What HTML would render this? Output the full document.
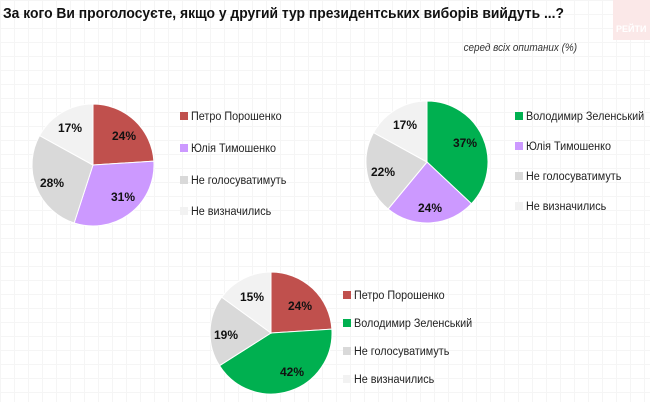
<!DOCTYPE html>
<html><head><meta charset="utf-8"><style>
body{margin:0;width:650px;height:402px;overflow:hidden;background:#fff;font-family:"Liberation Sans",sans-serif;
background-image:linear-gradient(#f5f5f5 1px,transparent 1px),linear-gradient(90deg,#f5f5f5 1px,transparent 1px);background-size:14px 14px;}
</style></head><body>
<svg id="s" width="650" height="402" style="position:absolute;left:0;top:0" font-family="Liberation Sans, sans-serif">
<rect x="613" y="0" width="37" height="40" fill="#fbe8e8"/>
<text x="616" y="32" font-size="9" font-weight="bold" fill="#fff">РЕЙТИ</text>
<text transform="translate(3,18) scale(0.925,1)" font-size="15" font-weight="bold" fill="#111">За кого Ви проголосуєте, якщо у другий тур президентських виборів вийдуть ...?</text>
<text transform="translate(577,51) scale(0.9,1)" font-size="11" font-style="italic" fill="#333" text-anchor="end">серед всіх опитаних (%)</text>
</svg>
<script>
var s=document.getElementById('s'),NS='http://www.w3.org/2000/svg';
function el(t,a,txt){var e=document.createElementNS(NS,t);for(var k in a)e.setAttribute(k,a[k]);if(txt)e.textContent=txt;s.appendChild(e);}
var C={r:'#c0504d',p:'#cc99ff',g:'#d9d9d9',l:'#f2f2f2',z:'#00b050'};
function pie(cx,cy,R,sl,labels){var a=0;sl.forEach(function(x,i){var v=x[0]/100,a2=a+v*2*Math.PI;
var x1=cx+R*Math.sin(a),y1=cy-R*Math.cos(a),x2=cx+R*Math.sin(a2),y2=cy-R*Math.cos(a2);
el('path',{d:'M'+cx+','+cy+'L'+x1+','+y1+'A'+R+','+R+' 0 '+(v>0.5?1:0)+' 1 '+x2+','+y2+'Z',fill:C[x[1]],stroke:'#fff','stroke-width':1});a=a2;
el('text',{x:labels[i][0],y:labels[i][1],'font-size':12,'font-weight':'bold','text-anchor':'middle',fill:'#111'},x[0]+'%');});}
function leg(x,ys,items){items.forEach(function(it,i){el('rect',{x:x,y:ys[i]-8,width:8,height:8,fill:C[it[0]]});
el('text',{transform:'translate('+(x+11)+','+ys[i]+') scale(0.9,1)','font-size':12,fill:'#222'},it[1]);});}
pie(93,165,61,[[24,'r'],[31,'p'],[28,'g'],[17,'l']],[[124,140],[123,201],[52,187],[70,132]]);
leg(180,[120,152,184,215],[['r','Петро Порошенко'],['p','Юлія Тимошенко'],['g','Не голосуватимуть'],['l','Не визначились']]);
pie(427,162,61,[[37,'z'],[24,'p'],[22,'g'],[17,'l']],[[465,147],[430,212],[383,176],[405,129]]);
leg(515,[120,150,180,210],[['z','Володимир Зеленський'],['p','Юлія Тимошенко'],['g','Не голосуватимуть'],['l','Не визначились']]);
pie(271,333,61,[[24,'r'],[42,'z'],[19,'g'],[15,'l']],[[300,310],[292,376],[226,339],[252,301]]);
leg(343,[299,327,355,383],[['r','Петро Порошенко'],['z','Володимир Зеленський'],['g','Не голосуватимуть'],['l','Не визначились']]);
</script>
</body></html>
